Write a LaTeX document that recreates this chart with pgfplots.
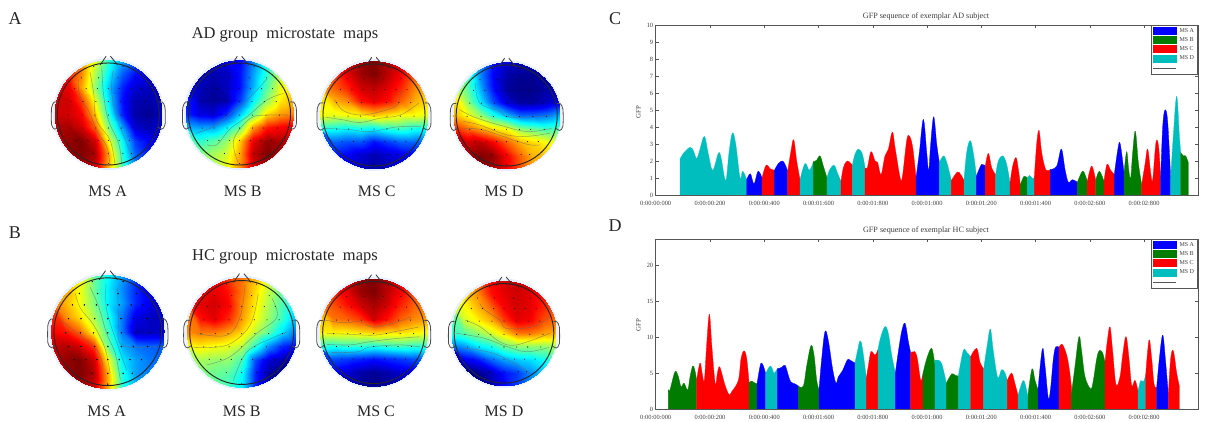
\documentclass[border=0pt]{standalone}
\usepackage{fontspec}
\setmainfont{Liberation Serif}
\usepackage{pgfplots}
\pgfplotsset{compat=1.18}
\definecolor{msteal}{RGB}{0,190,190}
\definecolor{msgreen}{RGB}{0,125,0}
\definecolor{axgray}{RGB}{85,85,85}
\definecolor{txtgray}{RGB}{60,60,60}
\definecolor{halo}{RGB}{232,240,255}
\newcommand\seg[2]{\addplot[forget plot,draw=#1,fill=#1,line width=.3pt,smooth,tension=.6] coordinates {#2} \closedcycle;}
\newcommand\cn[1]{\addplot[smooth,tension=.6,draw=black!60,line width=.55pt,opacity=.55] coordinates {#1};}
\newcommand\electrodes[2]{\addplot[only marks,mark=*,mark size=#1,draw=none,fill=black,fill opacity=#2] coordinates {
(-.27,.88)(.27,.88)(-.5,.67)(-.18,.67)(.18,.67)(.5,.67)
(-.62,.47)(-.41,.47)(-.2,.47)(0,.47)(.2,.47)(.41,.47)(.61,.47)
(-.69,.23)(-.47,.23)(-.23,.23)(0,.23)(.23,.23)(.46,.23)(.68,.23)
(-.74,-.02)(-.48,-.02)(-.25,-.02)(0,-.02)(.24,-.02)(.49,-.02)(.74,-.02)
(-.69,-.26)(-.47,-.26)(-.23,-.26)(0,-.26)(.24,-.26)(.45,-.26)(.7,-.26)
(-.59,-.49)(-.38,-.49)(-.19,-.49)(0,-.49)(.2,-.49)(.39,-.49)(.59,-.49)
(-.28,-.73)(0,-.73)(.27,-.73)(.43,-.73)(0,-.92)};}
% #1 x, #2 y, #3 radius, #4 grid values, #5 contours, #6 dot size, #7 dot opacity
\newcommand\head[7]{%
\fill[halo] (#1pt,#2pt) circle ({#3pt+2pt});
\begin{scope}
\clip (#1pt,#2pt) circle (#3pt);
\begin{axis}[at={(#1pt,#2pt)},anchor=center,scale only axis,width=2*#3pt,height=2*#3pt,hide axis,
 xmin=-1,xmax=1,ymin=-1,ymax=1,view={0}{90},colormap/jet,point meta min=0,point meta max=100]
\addplot3[surf,shader=interp,mesh/rows=9,mesh/cols=9] table[row sep=\\,header=false,
 x expr={mod(\coordindex,9)/4-1},y expr={1-floor(\coordindex/9)/4},z index=0] {#4};
\end{axis}
\end{scope}
\begin{axis}[at={(#1pt,#2pt)},anchor=center,scale only axis,width=2*#3pt,height=2*#3pt,hide axis,
 xmin=-1,xmax=1,ymin=-1,ymax=1,clip=false]
#5
\electrodes{#6}{#7}
\addplot[draw=black!80,line width=.8pt,smooth,tension=.4] coordinates {(-.15,.91)(-.04,1.07)};
\addplot[draw=black!80,line width=.8pt,smooth,tension=.4] coordinates {(.04,1.07)(.17,.91)};
\addplot[draw=black!70,line width=.8pt,smooth,tension=.5] coordinates {(-.94,.22)(-1.0,.22)(-1.05,.12)(-1.05,-.2)(-.99,-.28)(-.92,-.24)};
\addplot[draw=black!70,line width=.8pt,smooth,tension=.5] coordinates {(.94,.22)(1.0,.22)(1.05,.12)(1.05,-.2)(.99,-.28)(.92,-.24)};
\draw[black!85,line width=.95pt] (axis cs:0,0) circle[radius=.945];
\end{axis}}
\pgfplotsset{gfp/.style={scale only axis,width=542.3pt,height=170pt,xmin=137,xmax=1764,ymin=0,
 xtick={137,299.8,462.6,625.4,788.2,951,1113.8,1276.6,1439.4,1602.2},
 xticklabels={0:00:00:000,0:00:00:200,0:00:00:400,0:00:01:600,0:00:01:800,0:00:01:000,0:00:01:200,0:00:01:400,0:00:02:600,0:00:02:800},
 tick align=inside,tick pos=both,tick style={draw=axgray,line width=.5pt},major tick length=3.5pt,
 axis line style={draw=axgray,line width=.9pt},
 tick label style={font=\fontsize{6.4}{7}\selectfont,text=txtgray},
 xticklabel style={yshift=-2.5pt},yticklabel style={xshift=1pt},
 /pgf/number format/assume math mode=true,
 legend cell align=left,
 legend style={at={(1,1)},anchor=north east,draw=axgray,line width=.9pt,font=\fontsize{6}{7}\selectfont,text=txtgray,row sep=-.3pt,inner xsep=1.5pt,inner ysep=.8pt,fill=white}}}
\newcommand\legendall{%
\addlegendimage{legend image code/.code={\fill[blue] (-1pt,-3.5pt) rectangle (22pt,3.5pt);}}\addlegendentry{\hspace*{1pt}MS A}
\addlegendimage{legend image code/.code={\fill[msgreen] (-1pt,-3.5pt) rectangle (22pt,3.5pt);}}\addlegendentry{\hspace*{1pt}MS B}
\addlegendimage{legend image code/.code={\fill[red] (-1pt,-3.5pt) rectangle (22pt,3.5pt);}}\addlegendentry{\hspace*{1pt}MS C}
\addlegendimage{legend image code/.code={\fill[msteal] (-1pt,-3.5pt) rectangle (22pt,3.5pt);}}\addlegendentry{\hspace*{1pt}MS D}
\addlegendimage{legend image code/.code={\draw[axgray,line width=.6pt] (-1pt,0pt) -- (22pt,0pt);}}\addlegendentry{\strut}}
\begin{document}
\begin{tikzpicture}[x=1pt,y=1pt]
\path[use as bounding box] (0,0) rectangle (1207,422);
% ---------- panel C ----------
\begin{axis}[gfp,at={(655.7pt,227pt)},ymax=10,ytick={0,1,...,10}]
\seg{msteal}{(210,2.1)(220,2.45)(240,2.8)(250,2.6)(260,2.15)(270,2.7)(283,3.45)(295,2.4)(308,1.45)(325,2.45)(333,2.2)(347,.85)(357,2.5)(367,3.65)(377,3.0)(390,1.0)(398,1.4)(410,.9)}
\seg{blue}{(410,.9)(421,1.25)(432,.65)(444,1.4)(456,1.0)}
\seg{red}{(456,1.0)(468,1.75)(480,1.55)(493,1.45)}
\seg{blue}{(493,1.45)(505,1.85)(517,2.0)(525,1.8)(533,1.4)}
\seg{red}{(533,1.4)(543,2.6)(551,3.25)(560,2.0)(570,.9)}
\seg{msteal}{(570,.9)(585,1.85)(598,1.45)(610,1.95)}
\seg{msgreen}{(610,1.95)(620,2.05)(630,2.3)(640,1.7)(651,1.0)}
\seg{msteal}{(651,1.0)(658,1.45)(672,1.75)(682,1.3)(693,.8)}
\seg{red}{(693,.8)(700,1.6)(712,2.0)(727,1.75)}
\seg{msteal}{(727,1.75)(735,2.4)(745,2.7)(757,2.4)(765,1.6)}
\seg{red}{(765,1.6)(772,1.6)(783,2.55)(795,2.0)(803,1.9)(813,1.2)(825,2.3)(835,2.7)(847,3.7)(855,2.8)(870,1.05)(877,1.05)(890,3.2)(898,3.47)(908,2.8)(918,1.0)}
\seg{blue}{(918,1.0)(928,2.5)(940,4.45)(950,2.5)(956,1.45)(962,3.0)(971,4.6)(980,3)(988,1.9)}
\seg{msteal}{(988,1.9)(1001,2.3)(1012,1.8)(1024,.85)}
\seg{red}{(1024,.85)(1042,1.35)(1052,1.2)(1062,.85)}
\seg{msteal}{(1062,.85)(1070,2.5)(1081,3.2)(1092,2.2)(1099,1.1)}
\seg{blue}{(1099,1.1)(1105,1.4)(1115,1.8)(1126,1.7)}
\seg{red}{(1126,1.7)(1135,2.45)(1145,1.6)(1157,1.2)}
\seg{msteal}{(1157,1.2)(1165,2.0)(1178,2.3)(1190,1.8)(1200,.7)}
\seg{red}{(1200,.7)(1208,1.7)(1218,2.2)(1225,1.5)(1231,.6)}
\seg{msgreen}{(1231,.6)(1242,1.1)(1252,1.0)}
\seg{msteal}{(1252,1.0)(1259,1.15)(1268,.95)(1273,1.05)}
\seg{red}{(1273,1.05)(1280,3.0)(1287,3.8)(1295,2.5)(1307,1.5)(1321,1.5)}
\seg{blue}{(1321,1.5)(1340,1.7)(1354,2.7)(1365,1.5)(1375,.75)(1387,.9)(1402,.75)}
\seg{msgreen}{(1402,.75)(1417,1.4)(1425,1.2)(1432,.8)}
\seg{red}{(1432,.8)(1445,1.7)(1457,.85)}
\seg{msgreen}{(1457,.85)(1468,1.4)(1482,.8)}
\seg{red}{(1482,.8)(1491,1.8)(1502,1.45)(1513,1.2)}
\seg{blue}{(1513,1.2)(1522,2.5)(1530,3.05)(1542,1.3)}
\seg{msgreen}{(1542,1.3)(1550,2.55)(1556,1.5)(1562,1.0)(1568,2.5)(1576,3.75)(1585,1.9)(1595,.6)}
\seg{red}{(1595,.6)(1605,1.8)(1613,2.7)(1622,1.3)(1628,.9)(1638,3.1)(1646,2.8)(1652,1.0)}
\seg{blue}{(1652,1.0)(1658,4.0)(1665,5.0)(1673,4.3)(1682,.95)}
\seg{msteal}{(1682,.95)(1690,3.5)(1700,5.8)(1708,3.5)(1712,2.5)}
\seg{msgreen}{(1712,2.5)(1720,2.3)(1727,2.3)(1735,1.9)}
\legendall
\end{axis}
% ---------- panel D ----------
\begin{axis}[gfp,at={(655.7pt,13pt)},ymax=23.7,ytick={0,5,10,15,20}]
\seg{msgreen}{(175,2.65)(180,2.7)(195,5.2)(205,4.5)(213,3.1)(222,3.6)(233,2.65)(240,4.5)(248,6)(254,5.5)(260,4.0)}
\seg{red}{(260,4.0)(265,5.5)(271,6.4)(277,4.8)(283,4.0)(290,9)(298,13.2)(305,9)(312,5)(317,3.35)(322,5.0)(328,5.9)(335,5.0)(345,3.3)(357,2)(365,2.4)(385,4)(393,7)(402,8.1)(410,7)(417,3.7)}
\seg{msgreen}{(417,3.7)(425,3.9)(432,3.7)(441,3.5)}
\seg{blue}{(441,3.5)(447,5.2)(453,6.4)(460,6)(467,4.9)}
\seg{msteal}{(467,4.9)(478,5.9)(485,5.8)(492,5)(502,5.6)}
\seg{blue}{(502,5.6)(515,5.8)(525,6.1)(533,5)(542,3.8)(555,3.5)(565,3.2)}
\seg{msgreen}{(565,3.2)(580,3.2)(590,6)(603,8.85)(612,7.5)(620,4)(627,2.7)}
\seg{blue}{(627,2.7)(635,7)(645,10.8)(655,9.5)(668,5.5)(678,3.6)(685,4.5)(697,5.3)(712,6.85)(720,6.8)(735,6.4)}
\seg{msteal}{(735,6.4)(742,8)(750,9.5)(757,8.5)(769,4.3)}
\seg{red}{(769,4.3)(775,6)(783,8)(795,7.5)(804,8.3)}
\seg{msteal}{(804,8.3)(812,10)(825,11.5)(835,10.5)(845,7.5)(856,5)}
\seg{blue}{(856,5)(865,8)(875,10.8)(885,11.95)(895,9.4)(902,7.8)}
\seg{red}{(902,7.8)(914,8)(922,7)(932,4)(939,5)}
\seg{msgreen}{(939,5)(950,7)(965,8.45)(975,6)}
\seg{msteal}{(975,6.8)(988,6.75)(997,6)(1009,3.6)}
\seg{msgreen}{(1009,3.6)(1025,4.9)(1035,4.7)(1045,4.6)}
\seg{msteal}{(1045,4.6)(1060,8.15)(1070,7.9)(1082,7.3)}
\seg{red}{(1082,7.3)(1100,8.45)(1110,6.5)(1121,5.6)}
\seg{msteal}{(1121,5.6)(1132,9)(1141,11.15)(1150,8)(1163,4.4)(1175,5.5)(1185,5)(1192,4)}
\seg{red}{(1192,4)(1205,5)(1215,3.5)(1224,1.9)}
\seg{msteal}{(1224,1.9)(1239,3.95)(1248,3)(1254,1.5)}
\seg{msgreen}{(1254,2)(1266,5.6)(1275,4)(1284,2.7)}
\seg{blue}{(1284,2.7)(1297,8.4)(1305,6)(1315,1.5)(1322,3)(1330,7)(1337,8.65)(1347,8.6)}
\seg{red}{(1347,8.6)(1357,9)(1370,7.5)(1378,5.5)(1384,3.2)}
\seg{msgreen}{(1384,2)(1395,6)(1407,10.1)(1415,8)(1425,4.5)(1442,2.8)(1450,4)(1460,7)(1468,8.15)(1478,7.8)(1485,6.5)}
\seg{red}{(1485,6.5)(1492,9.5)(1500,11.45)(1508,8)(1518,3.4)(1530,4.5)(1538,7.5)(1548,10.1)(1557,7)(1565,3.25)(1575,4)(1584,2.5)}
\seg{msteal}{(1584,2.5)(1592,3.95)(1600,3.8)(1607,4.7)}
\seg{red}{(1607,4.7)(1617,9.6)(1625,7)(1632,3.5)(1640,3)}
\seg{blue}{(1640,3)(1648,7)(1658,10.3)(1666,7)(1675,2)}
\seg{red}{(1675,2)(1682,7)(1690,8.1)(1700,5)(1708,3.2)}
\legendall
\end{axis}
% ---------- heads, AD row ----------
\head{108.3}{308}{54}{88\\85\\75\\60\\42\\30\\20\\15\\12\\88\\85\\75\\55\\38\\22\\14\\12\\12\\90\\90\\72\\52\\33\\16\\8\\6\\10\\92\\92\\82\\60\\36\\14\\5\\4\\8\\92\\92\\88\\68\\42\\16\\4\\2\\6\\95\\96\\92\\78\\50\\28\\8\\5\\10\\92\\98\\100\\92\\63\\38\\18\\12\\12\\88\\96\\100\\96\\72\\42\\22\\14\\14\\85\\90\\95\\92\\70\\45\\25\\16\\16\\}
{\cn{(-.56,.63)(-.52,.32)(-.34,.01)(-.22,-.30)(-.03,-.60)(.03,-.94)}
\cn{(-.34,.78)(-.27,.38)(-.22,-.11)(.03,-.48)(.12,-.91)}
\cn{(-.12,.88)(-.09,.38)(0,-.11)(.19,-.54)(.25,-.91)}
\cn{(.09,.81)(.06,.44)(.15,-.05)(.34,-.54)(.46,-.85)}}{.25}{.3}
\head{239.5}{308}{54}{15\\12\\10\\10\\12\\25\\40\\55\\60\\14\\8\\5\\6\\14\\28\\42\\56\\63\\15\\6\\3\\6\\14\\30\\46\\60\\66\\15\\5\\2\\4\\18\\36\\52\\64\\70\\16\\10\\8\\16\\32\\48\\66\\72\\75\\30\\28\\28\\36\\48\\72\\85\\88\\90\\40\\42\\46\\52\\68\\90\\98\\96\\92\\45\\50\\54\\58\\72\\94\\100\\96\\90\\48\\50\\54\\60\\74\\92\\96\\92\\88\\}
{\cn{(-.82,-.36)(-.48,-.23)(-.17,.01)(.2,.32)(.51,.65)}
\cn{(-.6,-.57)(-.42,-.57)(-.17,-.27)(.14,-.05)(.51,.26)(.81,.38)}
\cn{(-.02,-.91)(-.11,-.48)(.2,-.08)(.51,-.02)(.91,-.02)}}{.25}{.3}
\head{374}{307}{54}{78\\85\\92\\98\\100\\96\\92\\85\\78\\76\\82\\90\\97\\100\\94\\88\\80\\74\\72\\78\\84\\92\\94\\90\\84\\74\\70\\68\\70\\74\\86\\90\\86\\78\\70\\66\\62\\60\\62\\64\\68\\65\\62\\62\\60\\40\\40\\38\\40\\38\\42\\44\\40\\40\\24\\22\\20\\20\\14\\18\\22\\22\\22\\16\\14\\12\\8\\5\\8\\10\\12\\14\\14\\12\\10\\6\\4\\6\\8\\10\\12\\}
{\cn{(-.73,.28)(-.57,.08)(-.26,0)(.11,.06)(.43,.19)(.49,.47)}
\cn{(-.9,-.04)(-.57,-.09)(-.26,-.14)(.11,-.06)(.49,0)(.83,.22)}
\cn{(-.89,-.25)(-.45,-.27)(-.08,-.31)(.43,-.22)(.87,-.21)}}{.25}{.3}
\head{506.7}{306.5}{53.5}{62\\45\\28\\14\\8\\6\\6\\8\\10\\60\\45\\26\\12\\4\\2\\2\\5\\8\\60\\47\\30\\14\\3\\1\\1\\4\\8\\62\\52\\36\\20\\8\\3\\3\\6\\10\\70\\62\\52\\40\\30\\22\\22\\24\\30\\85\\78\\72\\66\\62\\52\\48\\44\\46\\92\\92\\94\\88\\78\\70\\66\\62\\60\\90\\96\\100\\98\\88\\78\\70\\68\\66\\88\\92\\98\\96\\88\\80\\72\\70\\68\\}
{\cn{(-.59,.61)(-.5,.23)(-.13,.08)(0,-.02)(.38,-.03)(.88,.01)}
\cn{(-.88,.11)(-.63,-.02)(-.13,-.18)(.38,-.3)(.84,-.24)}
\cn{(-.81,-.11)(-.5,-.18)(0,-.36)(.38,-.39)(.81,-.33)}
\cn{(-.81,-.24)(-.44,-.27)(.13,-.46)(.44,-.55)(.63,-.55)}}{.25}{.3}
% ---------- heads, HC row ----------
\head{107.8}{90.3}{57}{72\\72\\65\\48\\38\\28\\18\\12\\10\\74\\72\\62\\48\\36\\26\\16\\10\\8\\78\\70\\62\\50\\36\\28\\16\\10\\8\\80\\74\\66\\54\\40\\24\\10\\6\\8\\88\\86\\78\\62\\44\\24\\6\\6\\8\\92\\95\\92\\82\\48\\30\\24\\22\\22\\90\\98\\100\\92\\62\\36\\28\\24\\22\\88\\96\\100\\95\\70\\40\\28\\24\\22\\85\\92\\96\\92\\70\\42\\30\\24\\22\\}
{\cn{(-.57,.67)(-.48,.41)(-.25,.12)(-.05,-.29)(.04,-.73)}
\cn{(-.83,.2)(-.49,-.06)(-.19,-.32)(-.08,-.61)}
\cn{(-.31,.78)(-.16,.44)(-.02,-.03)(.13,-.38)(.22,-.84)}
\cn{(-.03,.84)(-.02,.38)(.16,-.2)(.33,-.67)}
\cn{(.17,.76)(.19,.26)(.24,-.23)(.85,-.26)}}{.5}{.75}
\head{241.7}{89.5}{55}{82\\86\\88\\82\\76\\70\\58\\45\\38\\84\\88\\90\\86\\76\\66\\56\\46\\38\\84\\90\\92\\88\\74\\64\\54\\44\\36\\78\\86\\90\\84\\72\\62\\52\\42\\30\\74\\76\\76\\72\\66\\56\\46\\34\\22\\62\\64\\62\\60\\56\\42\\26\\16\\12\\56\\54\\52\\52\\44\\20\\8\\4\\6\\54\\50\\48\\46\\38\\16\\3\\1\\4\\52\\50\\48\\44\\36\\16\\4\\2\\5\\}
{\cn{(-.82,-.02)(-.27,-.05)(-.03,.28)(.06,.86)}
\cn{(-.88,-.27)(-.27,-.23)(.15,.13)(.3,.71)}
\cn{(-.64,-.59)(-.21,-.44)(.27,-.02)(.64,.28)(.55,.62)}
\cn{(-.15,-.87)(.03,-.44)(.27,-.23)(.82,.01)}}{.25}{.35}
\head{373.7}{89.5}{54}{80\\86\\92\\98\\100\\96\\90\\84\\78\\78\\84\\90\\97\\100\\94\\88\\80\\76\\76\\80\\86\\92\\96\\92\\84\\78\\74\\74\\76\\78\\82\\92\\86\\78\\74\\72\\64\\64\\64\\66\\68\\66\\66\\64\\62\\42\\40\\42\\42\\40\\42\\44\\42\\42\\22\\20\\18\\16\\14\\16\\18\\20\\22\\14\\12\\8\\4\\2\\4\\8\\10\\14\\12\\10\\6\\3\\1\\3\\6\\10\\12\\}
{\cn{(-.9,.23)(-.56,.18)(-.25,.2)(-.04,.1)(.36,.17)(.7,.29)}
\cn{(-.87,-.02)(-.5,-.03)(0,-.05)(.36,.01)(.83,.1)}
\cn{(-.87,-.22)(-.44,-.23)(-.07,-.17)(.43,-.11)(.86,-.08)}
\cn{(-.78,-.37)(-.31,-.36)(-.07,-.27)(.49,-.23)(.86,-.27)}}{.25}{.3}
\head{504}{88.7}{52.7}{62\\68\\78\\88\\92\\94\\92\\88\\82\\60\\66\\74\\86\\90\\92\\90\\86\\80\\55\\62\\70\\78\\88\\92\\90\\84\\78\\50\\58\\64\\70\\82\\90\\88\\80\\76\\42\\46\\52\\58\\66\\76\\76\\72\\70\\24\\28\\36\\40\\48\\52\\52\\52\\54\\8\\10\\14\\22\\28\\32\\34\\38\\44\\3\\1\\1\\6\\14\\18\\26\\32\\38\\3\\1\\1\\5\\12\\18\\26\\32\\38\\}
{\cn{(-.46,.57)(-.36,.44)(-.08,.25)(.05,.09)(.56,.13)(.87,.32)}
\cn{(-.74,.25)(-.46,.13)(-.08,-.16)(.24,-.22)(.87,0)}
\cn{(-.9,0)(-.39,-.09)(.05,-.25)(.43,-.35)(.85,-.27)}
\cn{(-.77,-.28)(-.2,-.38)(.3,-.63)(.49,-.76)}}{.25}{.3}
% ---------- texts ----------
\begin{scope}[every node/.style={text=black!85,inner sep=0pt}]
\node[font=\fontsize{18}{20}\selectfont] at (15,403.5) {A};
\node[font=\fontsize{18}{20}\selectfont] at (15,189) {B};
\node[font=\fontsize{18}{20}\selectfont] at (615,403.5) {C};
\node[font=\fontsize{18}{20}\selectfont] at (615,196) {D};
\node[font=\fontsize{16.5}{18}\selectfont] at (285,387) {AD group\ \ microstate\ \ maps};
\node[font=\fontsize{16.5}{18}\selectfont] at (285,165) {HC group\ \ microstate\ \ maps};
\foreach \x/\t in {107.7/MS A,242.7/MS B,376.7/MS C,504/MS D}
 \node[font=\fontsize{16}{18}\selectfont] at (\x,231) {\t};
\foreach \x/\t in {106.7/MS A,241.7/MS B,376/MS C,504/MS D}
 \node[font=\fontsize{16}{18}\selectfont] at (\x,11) {\t};
\node[font=\fontsize{8.1}{9}\selectfont,text=txtgray] at (926,405) {GFP sequence of exemplar AD subject};
\node[font=\fontsize{8.1}{9}\selectfont,text=txtgray] at (926,191) {GFP sequence of exemplar HC subject};
\node[font=\fontsize{6.8}{8}\selectfont,text=txtgray,rotate=90] at (638.5,310) {GFP};
\node[font=\fontsize{6.8}{8}\selectfont,text=txtgray,rotate=90] at (638.5,97) {GFP};
\end{scope}
\end{tikzpicture}
\end{document}
